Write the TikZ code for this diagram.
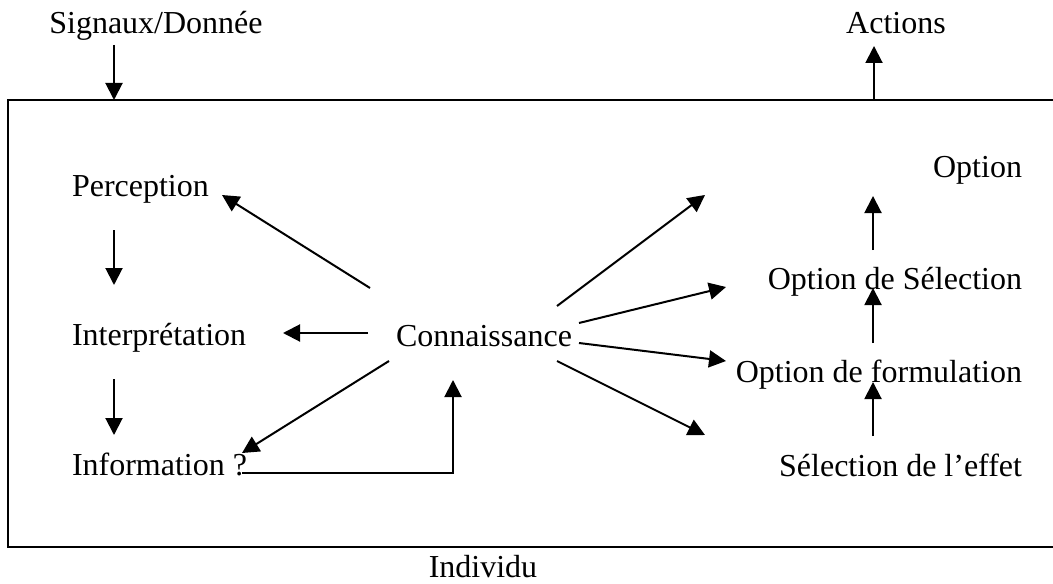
\documentclass[tikz,border=0pt]{standalone}
\usepackage{fontspec}
\setmainfont{Liberation Serif}
\usetikzlibrary{arrows.meta, positioning}

\begin{document}
\begin{tikzpicture}[x=0.5pt, y=-0.5pt, line width=1pt,
    arr/.style={-{Triangle[length=8.5pt,width=8.5pt]}},
    lbl/.style={inner sep=0pt, font=\fontsize{16}{19}\selectfont}]
\useasboundingbox (0,0) rectangle (1053,583);

% Frame of the individual (runs off the right edge)
\draw (1070,100) -- (8,100) -- (8,547) -- (1070,547);

% Labels
\node[lbl, anchor=base] (sig) at (156,34) {Signaux/Donnée};
\node[lbl, anchor=base] (act) at (896,34) {Actions};
\node[lbl, anchor=base west] (perc) at (71,196) {Perception};
\node[lbl, anchor=base west] (interp) at (71,345) {Interprétation};
\node[lbl, anchor=base west] (info) at (71,475) {Information ?};
\node[lbl, anchor=base] (conn) at (484,346) {Connaissance};
\node[lbl, anchor=base east] (opt) at (1023,177) {Option};
\node[lbl, anchor=base east] (optsel) at (1023,289) {Option de Sélection};
\node[lbl, anchor=base east] (optform) at (1023,382) {Option de formulation};
\node[lbl, anchor=base east] (seleff) at (1023,476) {Sélection de l'effet};
\node[lbl, anchor=base] (indiv) at (483,577) {Individu};

% Arrow ends
\foreach \n/\x/\y in {sigA/114/45, sigB/114/100, actA/874/100, actB/874/46,
    percA/114/230, interpB/114/285, interpA/114/379, infoB/114/435,
    connL/368/333, interpR/283/333, connUL/370/288, percR/222/195,
    connDL/389/361, infoR/242/453, infoA/242/473, connB/453/380,
    connUR/557/306, freeUR/705/195, connR1/579/323, optselL/726/287,
    connR2/579/343, optformL/726/361, connDR/557/361, freeDR/705/435,
    optselA/873/250, optB/873/196, optformA/873/343, optselB/873/288,
    seleffA/873/436, optformB/873/382}
    \coordinate (\n) at (\x,\y);

% Input and output
\draw[arr] (sigA) -- (sigB);
\draw[arr] (actA) -- (actB);

% Left side
\draw[arr] (percA) -- (interpB);
\draw[arr] (interpA) -- (infoB);
\draw[arr] (connL) -- (interpR);
\draw[arr] (connUL) -- (percR);
\draw[arr] (connDL) -- (infoR);
\draw[arr] (infoA) -| (connB);

% Right side
\draw[arr] (connUR) -- (freeUR);
\draw[arr] (connR1) -- (optselL);
\draw[arr] (connR2) -- (optformL);
\draw[arr] (connDR) -- (freeDR);
\draw[arr] (optselA) -- (optB);
\draw[arr] (optformA) -- (optselB);
\draw[arr] (seleffA) -- (optformB);
\end{tikzpicture}
\end{document}
